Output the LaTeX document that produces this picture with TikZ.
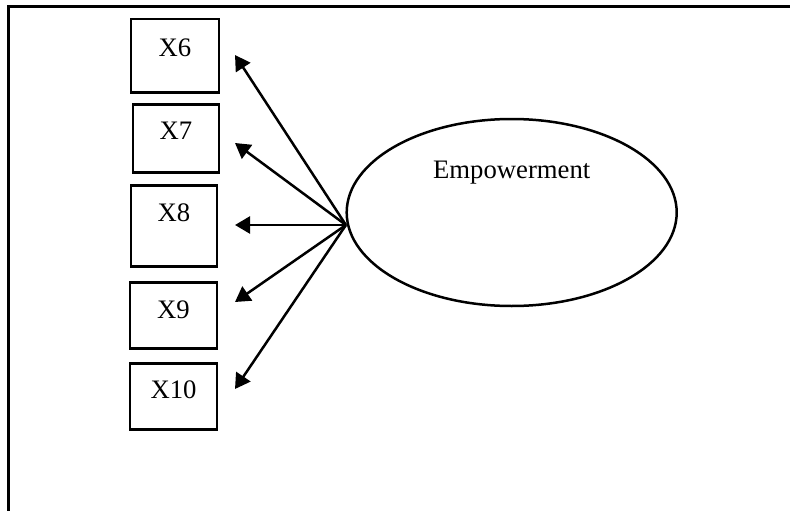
\documentclass[tikz,border=0pt]{standalone}
\usepackage{fontspec}
\setmainfont{Liberation Serif}
\usetikzlibrary{shapes.geometric,arrows.meta,calc}
\begin{document}
\begin{tikzpicture}[x=1pt,y=-1pt,
  box/.style={draw,line width=2.5pt,inner sep=0pt,font=\fontsize{26.7}{32}\selectfont},
  conn/.style={line width=2.5pt,-{Triangle[length=15pt,width=17pt]}},
  txt/.style={font=\fontsize{26.7}{32}\selectfont,inner sep=0pt}]
\useasboundingbox (0,0) rectangle (790,511);
% frame (only top and left edges visible)
\draw[line width=2.5pt] (8.3,520) -- (8.3,6.3) -- (800,6.3);
% indicator boxes
\node[box,minimum width=88pt,text height=37pt,text depth=36pt,anchor=north] (x6) at (175,18) {X6};
\node[box,minimum width=86pt,text height=35pt,text depth=33pt,anchor=north] (x7) at (176,103) {X7};
\node[box,minimum width=86pt,text height=36pt,text depth=45pt,anchor=north] (x8) at (174,184) {X8};
\node[box,minimum width=87pt,text height=36pt,text depth=30pt,anchor=north] (x9) at (173.5,281) {X9};
\node[box,minimum width=87pt,text height=35pt,text depth=31pt,anchor=north] (x10) at (173.5,362) {X10};
% latent variable
\node[draw,ellipse,line width=2.5pt,minimum width=330pt,minimum height=187pt,inner sep=0pt] (emp) at (511.7,212.5) {};
\node[txt,anchor=base] (emplbl) at ($(emp.north)+(0,61)$) {Empowerment};
% connectors
\coordinate (o) at ($(emp.west)+(0.5,12.5)$);
\coordinate (t6) at (235,55);
\coordinate (t7) at (235,143);
\coordinate (t8) at (235,225);
\coordinate (t9) at (235,302);
\coordinate (t10) at (235,389);
\foreach \t in {t6,t7,t8,t9,t10} \draw[conn] (o) -- (\t);
\end{tikzpicture}
\end{document}
